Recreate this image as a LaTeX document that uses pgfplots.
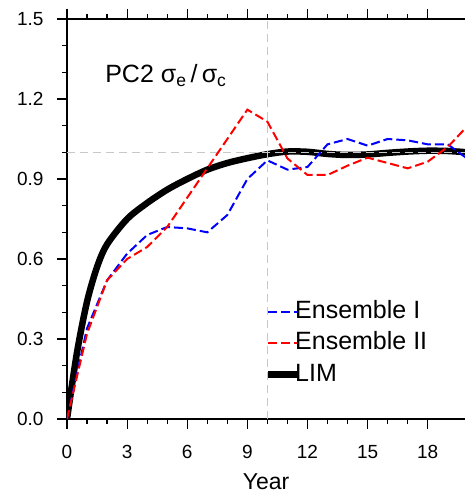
\documentclass[border=0pt]{standalone}
\usepackage{fontspec}
\setmainfont{Liberation Sans}
\usepackage{pgfplots}
\pgfplotsset{compat=1.18}
\definecolor{refgray}{RGB}{200,200,200}
\begin{document}
\begin{tikzpicture}
\path[use as bounding box] (-67bp,-75bp) rectangle (398bp,419bp);
\begin{axis}[
  scale only axis, width=400bp, height=400bp,
  xmin=0, xmax=19.96, ymin=0, ymax=1.5,
  axis line style={line width=1.5bp},
  every tick/.style={line width=1.2bp, black},
  tick align=outside,
  major tick length=10bp, minor tick length=5bp,
  xtick={0,3,6,9,12,15,18}, minor x tick num=2,
  ytick={0,0.3,0.6,0.9,1.2,1.5}, minor y tick num=2,
  xtick pos=both, ytick pos=left,
  /pgf/number format/assume math mode=true,
  tick label style={font=\fontsize{19bp}{22bp}\selectfont},
  xticklabel={\rule{0pt}{26bp}\pgfmathprintnumber{\tick}},
  yticklabel style={xshift=-10bp, /pgf/number format/.cd, fixed, fixed zerofill, precision=1},
  xlabel={Year},
  every axis x label/.style={at={(axis description cs:0,0)}, anchor=base, xshift=199bp, yshift=-70bp,
    font=\fontsize{23bp}{27bp}\selectfont},
  legend style={at={(axis cs:9.73,0.465)}, anchor=north west, draw=none, fill=none,
    font=\fontsize{25bp}{30bp}\selectfont, row sep=2.5bp,
    nodes={inner xsep=0.5bp, inner ysep=3bp, text height=18bp, text depth=5bp},
    /tikz/every odd column/.append style={column sep=-7bp}},
  legend cell align=left,
  legend image code/.code={\draw[#1] (0bp,0bp) -- (30bp,0bp);},
  clip=true,
]
\addplot[black, line width=6.5bp, forget plot, smooth] coordinates {
(0,0) (0.5,0.25) (1,0.44) (1.5,0.57) (2,0.655) (3,0.75) (4,0.81) (5,0.86) (6,0.90)
(7,0.935) (8,0.96) (9,0.978) (10,0.993) (11,1.003) (12,1.002) (13,0.994) (14,0.99)
(15,0.992) (16,0.998) (17,1.003) (18,1.006) (19,1.005) (20,1.0)};
\draw[refgray, line width=1bp, dash pattern=on 8bp off 5bp] (axis cs:0,1) -- (axis cs:20,1);
\draw[refgray, line width=1bp, dash pattern=on 8bp off 5bp] (axis cs:10,0) -- (axis cs:10,1.5);
\addplot[blue, line width=2bp, dash pattern=on 9bp off 4bp] coordinates {
(0,0) (1,0.34) (2,0.52) (3,0.62) (4,0.69) (5,0.72) (6,0.715) (7,0.70) (8,0.765)
(9,0.90) (10,0.97) (11,0.935) (12,0.945) (13,1.03) (14,1.05) (15,1.025) (16,1.05)
(17,1.045) (18,1.03) (19,1.03) (20,0.975)};
\addplot[red, line width=2bp, dash pattern=on 9bp off 4bp] coordinates {
(0,0) (1,0.32) (2,0.52) (3,0.60) (4,0.645) (5,0.72) (6,0.83) (7,0.94) (8,1.05)
(9,1.16) (10,1.115) (11,0.977) (12,0.915) (13,0.915) (14,0.95) (15,0.98) (16,0.96)
(17,0.94) (18,0.965) (19,1.02) (20,1.10)};
\addlegendimage{black, line width=6.5bp}
\legend{Ensemble I, Ensemble II, LIM}
\node[anchor=base west, font=\fontsize{25bp}{30bp}\selectfont, inner sep=0pt] at (axis cs:1.9,1.26)
  {PC2 σ\textsubscript{e}\,/\,σ\textsubscript{c}};
\end{axis}
\end{tikzpicture}
\end{document}
